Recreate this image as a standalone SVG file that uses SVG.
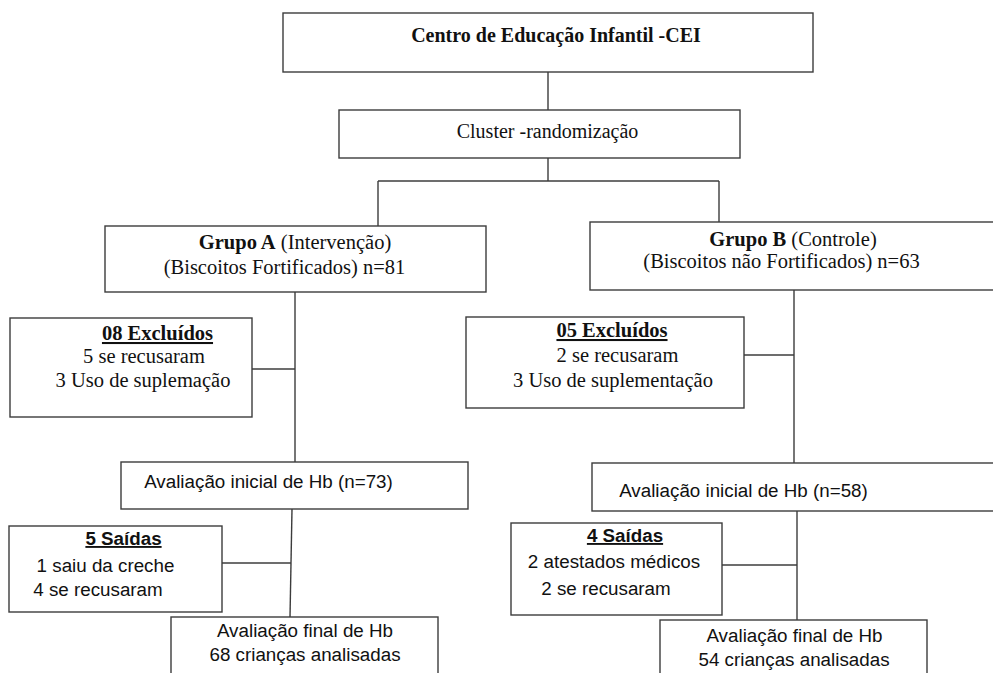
<svg xmlns="http://www.w3.org/2000/svg" width="993" height="673" viewBox="0 0 993 673">
<style>
.box{fill:#fff;stroke:#3c3c3c;stroke-width:1.4}
.ln{stroke:#3c3c3c;stroke-width:1.4;fill:none}
.sf{font-family:"Liberation Serif","Times New Roman",serif;font-size:20.5px;fill:#111;text-anchor:middle}
.ss{font-family:"Liberation Sans",Arial,sans-serif;font-size:18.8px;fill:#111;text-anchor:middle}
.b{font-weight:bold}
.u{text-decoration:underline}
</style>
<rect width="993" height="673" fill="#fff"/>
<g id="connectors">
<line class="ln" x1="548" y1="72" x2="548" y2="110"/>
<line class="ln" x1="548" y1="158" x2="548" y2="181"/>
<line class="ln" x1="378" y1="181" x2="719" y2="181"/>
<line class="ln" x1="378" y1="181" x2="378" y2="226"/>
<line class="ln" x1="719" y1="181" x2="719" y2="222"/>
<line class="ln" x1="295" y1="292" x2="295" y2="462"/>
<line class="ln" x1="252" y1="369" x2="295" y2="369"/>
<line class="ln" x1="794" y1="290" x2="794" y2="463"/>
<line class="ln" x1="744" y1="355" x2="794" y2="355"/>
<line class="ln" x1="292" y1="509" x2="290" y2="617"/>
<line class="ln" x1="222" y1="563" x2="291" y2="563"/>
<line class="ln" x1="797" y1="511" x2="797" y2="620"/>
<line class="ln" x1="722" y1="565" x2="797" y2="565"/>
</g>
<g id="cei">
<rect class="box" x="283" y="13" width="530" height="59"/>
<text class="sf b" x="556" y="42" style="font-size:20px">Centro de Educação Infantil -CEI</text>
</g>
<g id="cluster">
<rect class="box" x="339" y="110" width="401" height="48"/>
<text class="sf" x="547.5" y="138" style="font-size:20px">Cluster -randomização</text>
</g>
<g id="grupoA">
<rect class="box" x="105" y="226" width="381" height="66"/>
<text class="sf" x="295" y="249"><tspan class="b">Grupo A</tspan> (Intervenção)</text>
<text class="sf" x="284.5" y="274">(Biscoitos Fortificados) n=81</text>
</g>
<g id="grupoB">
<rect class="box" x="590" y="222" width="410" height="68"/>
<text class="sf" x="793" y="246"><tspan class="b">Grupo B</tspan> (Controle)</text>
<text class="sf" x="781.5" y="268">(Biscoitos não Fortificados) n=63</text>
</g>
<g id="excluidosA">
<rect class="box" x="10" y="318" width="242" height="99"/>
<text class="sf b u" x="157.5" y="340">08 Excluídos</text>
<text class="sf" x="144" y="363">5 se recusaram</text>
<text class="sf" x="143" y="387">3 Uso de suplemação</text>
</g>
<g id="excluidosB">
<rect class="box" x="466" y="317" width="278" height="91"/>
<text class="sf b u" x="612" y="337">05 Excluídos</text>
<text class="sf" x="617.5" y="362">2 se recusaram</text>
<text class="sf" x="613" y="387">3 Uso de suplementação</text>
</g>
<g id="avalInicialA">
<rect class="box" x="121" y="462" width="347" height="47"/>
<text class="ss" x="268.5" y="488">Avaliação inicial de Hb (n=73)</text>
</g>
<g id="avalInicialB">
<rect class="box" x="592" y="463" width="410" height="48"/>
<text class="ss" x="743.5" y="497">Avaliação inicial de Hb (n=58)</text>
</g>
<g id="saidasA">
<rect class="box" x="9" y="526" width="213" height="86"/>
<text class="ss b u" x="123.5" y="545">5 Saídas</text>
<text class="ss" x="105.5" y="572">1 saiu da creche</text>
<text class="ss" x="98" y="596">4 se recusaram</text>
</g>
<g id="saidasB">
<rect class="box" x="511" y="523" width="211" height="92"/>
<text class="ss b u" x="625" y="542">4 Saídas</text>
<text class="ss" x="614" y="568">2 atestados médicos</text>
<text class="ss" x="606" y="595">2 se recusaram</text>
</g>
<g id="avalFinalA">
<rect class="box" x="171" y="617" width="267" height="70"/>
<text class="ss" x="305" y="637">Avaliação final de Hb</text>
<text class="ss" x="305" y="661">68 crianças analisadas</text>
</g>
<g id="avalFinalB">
<rect class="box" x="660" y="620" width="267" height="70"/>
<text class="ss" x="794.5" y="642">Avaliação final de Hb</text>
<text class="ss" x="794" y="666">54 crianças analisadas</text>
</g>
</svg>
